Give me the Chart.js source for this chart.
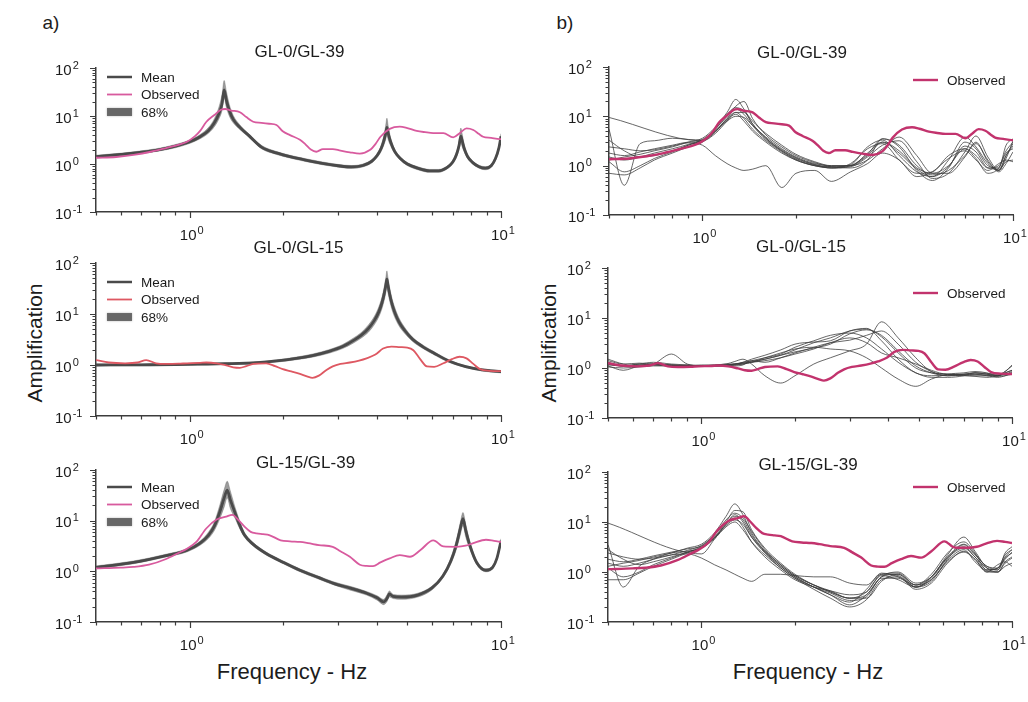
<!DOCTYPE html>
<html>
<head>
<meta charset="utf-8">
<title>Amplification</title>
<script src="https://cdn.jsdelivr.net/npm/chart.js@4/dist/chart.umd.min.js"></script>
<style>
  html, body { margin: 0; padding: 0; background: #fff; }
  #fig { position: relative; width: 1028px; height: 702px; overflow: hidden;
         font-family: "Liberation Sans", Arial, Helvetica, sans-serif; color: #1c1c1c; }
  #fig canvas { position: absolute; }
  .lbl { position: absolute; white-space: nowrap; transform: translate(-50%, -50%); }
  .rot { transform: translate(-50%, -50%) rotate(-90deg); }
</style>
</head>
<body>
<div id="fig">
  <div class="lbl" style="left:51px;top:23px;font-size:19px">a)</div>
  <div class="lbl" style="left:565px;top:23px;font-size:19px">b)</div>
  <div class="lbl rot" style="left:35px;top:343px;font-size:21px">Amplification</div>
  <div class="lbl rot" style="left:549px;top:343px;font-size:21px">Amplification</div>
  <div class="lbl" style="left:292px;top:672px;font-size:22px">Frequency - Hz</div>
  <div class="lbl" style="left:808px;top:672px;font-size:22px">Frequency - Hz</div>
</div>
<script>
// ---- GL-0/GL-39 : mean transfer function and 68% band
const F_MEAN_1 = [0.5, 0.6, 0.7, 0.8, 0.9, 1.0, 1.08, 1.15, 1.2, 1.24, 1.27, 1.29, 1.31, 1.34, 1.38, 1.45, 1.55, 1.7, 1.9, 2.1, 2.4, 2.7, 3.0, 3.3, 3.6, 3.85, 4.0, 4.12, 4.2, 4.26, 4.3, 4.34, 4.42, 4.55, 4.75, 5.0, 5.4, 5.9, 6.3, 6.7, 7.0, 7.2, 7.33, 7.43, 7.5, 7.62, 7.8, 8.1, 8.5, 8.9, 9.3, 9.6, 9.85, 10]
const MEAN_1 = [1.42, 1.58, 1.76, 2.0, 2.35, 2.9, 3.7, 5.0, 7.2, 11, 18, 35, 22, 13, 8.5, 5.8, 3.9, 2.25, 1.7, 1.42, 1.18, 1.02, 0.92, 0.87, 0.93, 1.15, 1.5, 2.1, 3.0, 4.3, 5.8, 4.4, 2.9, 1.85, 1.3, 1.0, 0.82, 0.72, 0.72, 0.84, 1.1, 1.6, 2.4, 3.8, 3.1, 2.1, 1.45, 1.08, 0.88, 0.82, 0.92, 1.3, 2.2, 3.8]
const HI_1 = [1.52, 1.68, 1.88, 2.14, 2.55, 3.15, 4.1, 5.8, 8.8, 15, 28, 55, 34, 17.5, 10.3, 6.5, 4.25, 2.45, 1.82, 1.52, 1.26, 1.09, 0.98, 0.93, 1.0, 1.25, 1.66, 2.45, 3.8, 6.2, 9.0, 6.3, 3.5, 2.06, 1.4, 1.07, 0.88, 0.77, 0.77, 0.9, 1.2, 1.85, 3.0, 5.6, 4.3, 2.5, 1.6, 1.16, 0.94, 0.88, 0.99, 1.42, 2.45, 4.3]
const LO_1 = [1.33, 1.48, 1.65, 1.87, 2.18, 2.68, 3.35, 4.4, 6.0, 8.6, 13, 24, 15.5, 10, 7.2, 5.2, 3.6, 2.08, 1.58, 1.33, 1.1, 0.95, 0.86, 0.81, 0.87, 1.06, 1.36, 1.82, 2.45, 3.2, 4.0, 3.2, 2.4, 1.66, 1.2, 0.93, 0.76, 0.67, 0.67, 0.78, 1.01, 1.4, 2.0, 2.8, 2.3, 1.78, 1.32, 1.0, 0.82, 0.76, 0.85, 1.18, 1.95, 3.3]

// ---- GL-0/GL-15
const F_MEAN_2 = [0.5, 0.7, 0.9, 1.1, 1.3, 1.6, 1.9, 2.2, 2.5, 2.8, 3.1, 3.35, 3.55, 3.75, 3.92, 4.05, 4.15, 4.22, 4.27, 4.3, 4.33, 4.38, 4.45, 4.55, 4.7, 4.9, 5.2, 5.6, 6.1, 6.8, 7.7, 8.7, 10]
const MEAN_2 = [1.0, 1.01, 1.02, 1.04, 1.06, 1.1, 1.2, 1.35, 1.55, 1.85, 2.3, 3.0, 3.8, 5.2, 7.5, 11, 17, 26, 38, 48, 38, 26, 17, 11, 7, 4.8, 3.2, 2.3, 1.7, 1.2, 0.93, 0.8, 0.74]
const HI_2 = [1.04, 1.05, 1.06, 1.08, 1.1, 1.15, 1.26, 1.43, 1.66, 2.0, 2.52, 3.35, 4.3, 6.1, 9.0, 13.8, 22, 35, 54, 70, 54, 35, 22, 13.8, 8.4, 5.5, 3.5, 2.48, 1.82, 1.27, 0.97, 0.84, 0.78]
const LO_2 = [0.96, 0.97, 0.98, 1.0, 1.02, 1.05, 1.14, 1.27, 1.44, 1.7, 2.1, 2.68, 3.35, 4.4, 6.2, 8.8, 13, 19, 27, 34, 27, 19, 13, 8.8, 5.9, 4.2, 2.9, 2.12, 1.58, 1.13, 0.89, 0.76, 0.7]

// ---- GL-15/GL-39
const F_MEAN_3 = [0.5, 0.66, 0.84, 0.98, 1.08, 1.15, 1.2, 1.25, 1.29, 1.32, 1.35, 1.4, 1.45, 1.5, 1.6, 1.76, 2.0, 2.26, 2.6, 2.9, 3.3, 3.7, 4.0, 4.2, 4.3, 4.38, 4.5, 4.8, 5.4, 6.0, 6.5, 6.9, 7.2, 7.4, 7.55, 7.7, 7.95, 8.35, 8.95, 9.4, 9.7, 10]
const MEAN_3 = [1.2, 1.5, 2.05, 2.6, 3.6, 5.2, 7.8, 15, 28, 40, 26, 14, 8, 5.2, 3.4, 2.25, 1.5, 1.05, 0.75, 0.58, 0.46, 0.37, 0.3, 0.25, 0.29, 0.36, 0.32, 0.31, 0.34, 0.47, 0.8, 1.6, 3.5, 7, 11, 6.5, 3.2, 1.5, 1.05, 1.2, 1.8, 4.0]
const HI_3 = [1.28, 1.6, 2.18, 2.8, 3.95, 6.0, 9.4, 20.5, 41, 60, 39, 18, 9.5, 5.8, 3.7, 2.4, 1.6, 1.12, 0.8, 0.62, 0.5, 0.4, 0.33, 0.28, 0.34, 0.41, 0.35, 0.34, 0.37, 0.51, 0.87, 1.85, 4.3, 9.2, 14.5, 8.6, 3.8, 1.65, 1.12, 1.28, 1.95, 4.4]
const LO_3 = [1.12, 1.41, 1.93, 2.42, 3.28, 4.5, 6.4, 11, 18.5, 28, 17.5, 11, 6.8, 4.7, 3.15, 2.1, 1.41, 0.98, 0.7, 0.54, 0.42, 0.34, 0.27, 0.22, 0.25, 0.31, 0.29, 0.28, 0.31, 0.43, 0.73, 1.4, 2.8, 5.2, 8.0, 4.8, 2.7, 1.38, 0.98, 1.12, 1.68, 3.6]

// ---- observed spectral ratios
const F_OBS_1 = [0.5, 0.58, 0.66, 0.75, 0.84, 0.92, 0.98, 1.04, 1.08, 1.13, 1.2, 1.26, 1.3, 1.36, 1.45, 1.52, 1.6, 1.7, 1.8, 1.9, 1.99, 2.1, 2.26, 2.35, 2.45, 2.55, 2.68, 2.88, 3.05, 3.27, 3.52, 3.79, 3.95, 4.1, 4.39, 4.73, 5.0, 5.36, 5.7, 6.06, 6.53, 7.02, 7.4, 7.75, 8.15, 8.5, 8.76, 9.3, 9.9, 10]
const OBS_1 = [1.35, 1.4, 1.55, 1.8, 2.15, 2.5, 2.9, 3.8, 4.9, 7.5, 10.5, 13.5, 14, 13, 12, 9.5, 7.6, 7.2, 6.9, 6.5, 4.8, 4.0, 3.2, 2.6, 2.0, 1.8, 2.05, 2.05, 1.9, 1.75, 1.65, 1.95, 2.6, 3.7, 5.4, 6.0, 5.6, 4.9, 4.6, 4.4, 4.4, 3.6, 4.5, 5.5, 5.1, 4.2, 3.7, 3.5, 3.3, 3.3]
const F_OBS_2 = [0.5, 0.55, 0.62, 0.68, 0.725, 0.78, 0.84, 0.92, 0.98, 1.08, 1.13, 1.22, 1.31, 1.38, 1.45, 1.52, 1.6, 1.76, 1.88, 1.99, 2.12, 2.26, 2.38, 2.48, 2.6, 2.75, 2.88, 3.05, 3.27, 3.5, 3.7, 3.95, 4.18, 4.45, 4.73, 5.0, 5.23, 5.5, 5.78, 6.1, 6.53, 6.95, 7.36, 7.75, 8.15, 8.56, 9.2, 9.9, 10]
const OBS_2 = [1.25, 1.12, 1.08, 1.12, 1.25, 1.08, 1.05, 1.06, 1.08, 1.1, 1.12, 1.08, 0.98, 0.9, 0.88, 0.95, 1.05, 1.08, 0.95, 0.83, 0.75, 0.67, 0.6, 0.56, 0.62, 0.8, 0.94, 1.05, 1.12, 1.22, 1.35, 1.6, 2.1, 2.3, 2.25, 2.2, 1.95, 1.3, 0.94, 0.92, 1.08, 1.3, 1.45, 1.35, 1.05, 0.83, 0.77, 0.76, 0.76]
const F_OBS_3 = [0.5, 0.6, 0.66, 0.74, 0.84, 0.92, 0.98, 1.05, 1.13, 1.22, 1.31, 1.37, 1.44, 1.5, 1.57, 1.64, 1.72, 1.8, 1.96, 2.1, 2.26, 2.4, 2.6, 2.88, 3.05, 3.27, 3.52, 3.7, 3.88, 4.1, 4.39, 4.73, 5.1, 5.5, 6.06, 6.53, 7.2, 7.7, 8.15, 8.95, 9.5, 10]
const OBS_3 = [1.14, 1.18, 1.22, 1.35, 1.75, 2.3, 2.8, 3.8, 7.0, 10.5, 12, 13, 10, 7.6, 6.0, 5.6, 5.4, 5.2, 4.1, 3.9, 3.8, 3.6, 3.3, 3.05, 2.5, 1.94, 1.35, 1.28, 1.27, 1.5, 1.8, 2.09, 1.94, 2.6, 4.1, 3.1, 3.05, 3.2, 3.6, 4.2, 4.0, 3.8]

// ---- individual simulated profiles (right column), one row per profile
const F_SIM = [0.5, 0.56, 0.63, 0.7, 0.8, 0.9, 1.0, 1.1, 1.2, 1.28, 1.36, 1.45, 1.6, 1.8, 2.0, 2.3, 2.6, 3.0, 3.4, 3.8, 4.3, 4.9, 5.5, 6.2, 7.0, 7.6, 8.3, 9.0, 9.5, 10]
const SIMS_1 = [
  [9.5, null, null, null, null, null, 3.2, 4.5, 8, 12, 9, 5.5, 3.2, 1.9, 1.3, 1.0, 0.95, 1.0, 1.6, 3.0, 2.0, 0.9, 0.7, 1.0, 2.2, 1.6, 0.9, 1.0, 2.0, 3.0],
  [5.5, 0.4, 2.8, 3.2, 3.6, 3.4, 3.3, 5, 9, 14, 11, 6.5, 3.4, 2.0, 1.4, 1.05, 0.95, 1.05, 2.4, 3.3, 1.6, 0.75, 0.6, 1.3, 3.8, 2.4, 1.1, 0.8, 1.6, 2.5],
  [2.4, 2.2, 2.0, 2.1, 2.5, 2.9, 2.6, 1.6, 1.1, 0.9, 0.8, 0.85, 1.0, 0.36, 0.7, 0.8, 0.48, 0.75, 1.1, 1.8, 1.3, 0.6, 0.75, 1.4, 2.0, 1.3, 0.8, 1.1, 1.3, 1.2],
  [1.3, 1.5, 1.7, 2.0, 2.4, 3.0, 3.6, 6, 12, 22, 14, 7, 3.6, 2.1, 1.45, 1.05, 0.9, 0.95, 1.5, 2.6, 3.2, 1.2, 0.55, 0.7, 1.9, 4.0, 1.5, 0.8, 1.4, 3.2],
  [1.8, 1.6, 1.9, 2.2, 2.6, 3.0, 3.2, 5.5, 10, 16, 20, 9, 4.2, 2.4, 1.6, 1.15, 0.95, 0.9, 1.3, 3.5, 2.4, 0.8, 0.5, 0.9, 3.0, 2.2, 1.0, 0.9, 2.6, 3.5],
  [0.7, 0.65, 0.9, 1.3, 1.8, 2.4, 3.0, 4.8, 8.5, 11, 8, 5, 3.0, 1.8, 1.3, 1.0, 0.9, 1.1, 2.2, 2.8, 1.3, 0.7, 0.75, 1.6, 2.2, 1.4, 0.7, 0.9, 1.8, 2.2],
  [1.2, 0.75, 1.0, 1.4, 1.9, 2.6, 3.3, 5, 8, 10, 9.5, 6.5, 3.8, 2.2, 1.5, 1.1, 1.0, 1.0, 1.8, 3.0, 1.8, 0.85, 0.6, 0.95, 2.5, 1.9, 0.9, 0.85, 1.2, 1.3],
  [3.3, 2.0, 1.5, 1.6, 2.0, 2.6, 3.2, 5, 9, 12, 12, 7, 3.6, 2.0, 1.35, 1.0, 0.9, 1.0, 1.7, 3.5, 2.6, 1.0, 0.65, 0.8, 1.6, 2.8, 1.3, 0.75, 1.1, 1.9],
  [1.5, 1.3, 1.5, 1.8, 2.2, 2.7, 3.4, 5.5, 11, 15, 13, 8, 4.5, 2.6, 1.7, 1.2, 1.0, 1.0, 1.3, 2.2, 3.8, 1.6, 0.7, 0.7, 1.5, 3.0, 1.2, 0.8, 1.6, 2.8],
]
const SIMS_2 = [
  [1.3, 1.1, 1.15, 1.2, 1.15, 1.1, 1.1, 1.12, 1.15, 1.15, 1.2, 1.3, 1.5, 1.8, 2.3, 3.2, 4.0, 5.5, 6.0, 4.2, 2.0, 1.0, 0.8, 0.75, 0.72, 0.7, 0.7, 0.7, 0.75, 0.8],
  [1.1, 0.9, 1.1, 1.2, 1.9, 1.2, 1.1, 1.1, 1.1, 1.1, 1.15, 1.4, 1.3, 1.6, 2.0, 2.6, 3.2, 3.6, 4.5, 5.5, 3.0, 1.3, 0.85, 0.7, 0.75, 0.8, 0.75, 0.7, 0.8, 0.9],
  [1.2, 1.1, 1.2, 1.15, 1.1, 1.1, 1.1, 1.15, 1.2, 1.35, 1.5, 1.2, 0.7, 0.5, 0.7, 1.2, 1.6, 2.2, 3.0, 8.4, 4.0, 1.6, 0.85, 0.75, 0.7, 0.68, 0.65, 0.7, 0.8, 0.9],
  [1.4, 1.2, 1.25, 1.2, 1.1, 1.1, 1.15, 1.15, 1.2, 1.2, 1.3, 1.5, 1.8, 2.3, 3.0, 3.3, 3.5, 5.5, 6.2, 3.5, 1.5, 0.8, 0.7, 0.72, 0.75, 0.75, 0.72, 0.68, 0.7, 0.75],
  [1.05, 1.0, 1.05, 1.1, 1.1, 1.15, 1.1, 1.1, 1.1, 1.15, 1.2, 1.3, 1.6, 2.0, 2.4, 2.6, 2.4, 2.2, 1.6, 1.0, 0.6, 0.43, 0.6, 0.75, 0.8, 0.85, 0.8, 0.7, 0.85, 1.1],
  [1.15, 1.1, 1.2, 1.3, 1.2, 1.15, 1.12, 1.1, 1.12, 1.2, 1.3, 1.4, 1.6, 1.9, 2.6, 3.5, 4.5, 5.0, 4.0, 2.4, 1.3, 0.8, 0.65, 0.65, 0.7, 0.8, 0.75, 0.72, 0.75, 0.85],
  [1.5, 1.2, 1.1, 1.15, 1.15, 1.12, 1.1, 1.1, 1.15, 1.2, 1.25, 1.35, 1.5, 1.8, 2.1, 2.5, 3.0, 4.8, 5.8, 4.5, 2.2, 1.1, 0.8, 0.7, 0.72, 0.75, 0.7, 0.65, 0.7, 0.8],
  [1.2, 1.1, 1.1, 1.2, 1.15, 1.1, 1.1, 1.12, 1.15, 1.2, 1.25, 1.3, 1.4, 1.6, 1.9, 2.4, 3.2, 4.0, 3.2, 2.0, 1.6, 1.2, 0.9, 0.75, 0.75, 0.8, 0.78, 0.75, 0.85, 1.15],
]
const SIMS_3 = [
  [9.5, null, null, null, null, null, 2.3, 4.5, 9, 12, 8, 4, 2.0, 1.1, 0.7, 0.5, 0.42, 0.35, 0.4, 0.85, 0.7, 0.5, 0.8, 2.0, 3.2, 2.0, 1.1, 1.2, 1.8, 2.5],
  [3.5, 0.5, 1.3, 1.8, 2.4, 2.6, 3.0, 4.8, 9, 14, 10, 5, 2.4, 1.2, 0.75, 0.5, 0.35, 0.25, 0.45, 0.95, 0.8, 0.55, 0.9, 2.4, 4.0, 2.4, 1.1, 1.2, 2.2, 2.8],
  [2.4, 2.0, 1.8, 1.9, 2.2, 2.3, 1.9, 1.4, 1.1, 0.9, 0.75, 0.65, 0.9, 0.9, 0.85, 0.8, 0.8, 0.6, 0.55, 0.9, 0.85, 0.5, 0.7, 1.6, 2.5, 1.8, 1.0, 1.4, 1.6, 1.3],
  [1.3, 1.5, 1.7, 2.0, 2.4, 3.0, 3.6, 6, 13, 23, 14, 6, 2.6, 1.3, 0.8, 0.5, 0.35, 0.22, 0.35, 0.8, 1.0, 0.6, 0.8, 2.2, 5.0, 2.6, 1.2, 1.0, 1.6, 2.0],
  [1.8, 1.6, 1.8, 2.1, 2.5, 2.9, 3.3, 5.5, 10, 17, 16, 7, 3.0, 1.5, 0.9, 0.55, 0.4, 0.3, 0.3, 0.65, 0.9, 0.5, 0.65, 1.8, 3.5, 2.2, 1.3, 1.1, 2.4, 3.2],
  [0.7, 0.7, 0.95, 1.3, 1.8, 2.4, 3.0, 4.6, 8, 10, 7, 4, 2.2, 1.2, 0.75, 0.45, 0.3, 0.2, 0.28, 0.7, 0.8, 0.45, 0.6, 1.5, 2.6, 1.8, 1.0, 1.0, 1.3, 1.5],
  [1.2, 0.8, 1.0, 1.4, 1.9, 2.5, 3.1, 4.8, 8.5, 11, 9, 5, 2.6, 1.4, 0.85, 0.55, 0.4, 0.3, 0.35, 0.75, 0.75, 0.5, 0.75, 1.9, 3.0, 2.0, 1.2, 1.1, 1.9, 2.4],
  [2.8, 1.8, 1.4, 1.6, 2.0, 2.5, 3.2, 5, 9.5, 13, 11, 5.5, 2.5, 1.3, 0.8, 0.5, 0.38, 0.27, 0.32, 0.8, 0.9, 0.55, 0.7, 1.7, 2.8, 1.6, 1.05, 1.0, 1.5, 1.9],
  [1.5, 1.3, 1.5, 1.8, 2.2, 2.7, 3.4, 5.5, 11, 15, 12, 6.5, 2.8, 1.4, 0.85, 0.55, 0.42, 0.3, 0.4, 0.9, 0.95, 0.55, 0.8, 2.0, 3.6, 2.3, 1.3, 1.2, 2.0, 2.8],
]

const TITLES = ['GL-0/GL-39', 'GL-0/GL-15', 'GL-15/GL-39']

const AXIS_COLOR = '#3c3c3c'
const MEAN_COLOR = '#4a4a4a'
const BAND_COLOR = 'rgba(90,90,90,0.6)'
const SIM_COLOR = 'rgba(60,60,60,0.78)'
const OBS_PINK = '#d85a9e'
const OBS_RED = '#de5862'
const OBS_DARK = '#c2336d'
const FONT = '"Liberation Sans", Arial, Helvetica, sans-serif'
const PAD = { left: 70, right: 24, top: 44, bottom: 46 }

const pts = (xs, ys) => xs.map((x, i) => ({ x, y: ys[i] }))

function logTicks(min, max) {
  const out = []
  for (let e = Math.floor(Math.log10(min)); e <= Math.ceil(Math.log10(max)); e++) {
    for (let m = 1; m <= 9; m++) {
      const v = m * Math.pow(10, e)
      if (v >= min * 0.999 && v <= max * 1.001) out.push(v)
    }
  }
  return out
}

function power(v) {
  const e = Math.log10(v)
  return Math.abs(e - Math.round(e)) < 1e-6 ? Math.round(e) : null
}

// "10" with a raised exponent
function powerLabel(ctx, exp, x, y, center) {
  const s = exp < 0 ? '-' + Math.abs(exp) : String(exp)
  ctx.font = '15px ' + FONT
  const w1 = ctx.measureText('10').width
  ctx.font = '11px ' + FONT
  const w2 = ctx.measureText(s).width
  const left = center ? x - (w1 + w2 + 1) / 2 : x
  ctx.textAlign = 'left'
  ctx.textBaseline = 'alphabetic'
  ctx.font = '15px ' + FONT
  ctx.fillText('10', left, y + 5.5)
  ctx.font = '11px ' + FONT
  ctx.fillText(s, left + w1 + 1, y - 0.5)
}

// tick marks, power-of-ten labels, panel title and in-plot legend
const decorPlugin = {
  id: 'decor',
  afterDraw(chart, args, o) {
    const { ctx, chartArea: a } = chart
    const xs = chart.scales.x
    const ys = chart.scales.y
    ctx.save()
    ctx.strokeStyle = AXIS_COLOR
    ctx.fillStyle = '#1c1c1c'
    ctx.lineWidth = 1.2
    ctx.beginPath()
    logTicks(xs.min, xs.max).forEach(v => {
      const p = Math.round(xs.getPixelForValue(v)) + 0.5
      ctx.moveTo(p, a.bottom)
      ctx.lineTo(p, a.bottom + (power(v) !== null ? 6 : 3.5))
    })
    logTicks(ys.min, ys.max).forEach(v => {
      const p = Math.round(ys.getPixelForValue(v)) + 0.5
      ctx.moveTo(a.left, p)
      ctx.lineTo(a.left - (power(v) !== null ? 6 : 3.5), p)
    })
    ctx.stroke()
    logTicks(xs.min, xs.max).forEach(v => {
      const e = power(v)
      if (e !== null) powerLabel(ctx, e, xs.getPixelForValue(v) + 2, a.bottom + 22, true)
    })
    logTicks(ys.min, ys.max).forEach(v => {
      const e = power(v)
      if (e !== null) powerLabel(ctx, e, a.left - 41, ys.getPixelForValue(v) + 1, false)
    })

    ctx.font = '17px ' + FONT
    ctx.textAlign = 'center'
    ctx.textBaseline = 'middle'
    ctx.fillText(o.title, (a.left + a.right) / 2 + o.titleDx, a.top + o.titleDy)

    const lg = o.legend
    ctx.font = '13.5px ' + FONT
    ctx.textAlign = 'left'
    lg.items.forEach((it, i) => {
      const y = a.top + lg.y + i * 17.5
      const x = a.left + lg.x
      if (it.band) {
        ctx.fillStyle = 'rgba(90,90,90,0.85)'
        ctx.shadowColor = 'rgba(90,90,90,0.6)'
        ctx.shadowBlur = 2
        ctx.fillRect(x, y - 4, 25, 8)
        ctx.shadowBlur = 0
      } else {
        ctx.strokeStyle = it.color
        ctx.lineWidth = it.width
        ctx.beginPath()
        ctx.moveTo(x, y)
        ctx.lineTo(x + 25, y)
        ctx.stroke()
      }
      ctx.fillStyle = '#1c1c1c'
      ctx.fillText(it.label, x + 34, y + 1)
    })
    ctx.restore()
  },
}

function axis(min, max, fit) {
  return {
    type: 'logarithmic',
    min, max,
    afterFit: fit,
    ticks: { display: false },
    grid: { display: false },
    border: { display: true, color: AXIS_COLOR, width: 1.5 },
  }
}

function panel(box, datasets, decor) {
  const w = box.r - box.l + PAD.left + PAD.right
  const h = box.b - box.t + PAD.top + PAD.bottom
  const cv = document.createElement('canvas')
  cv.width = w
  cv.height = h
  cv.style.left = (box.l - PAD.left) + 'px'
  cv.style.top = (box.t - PAD.top) + 'px'
  cv.style.width = w + 'px'
  cv.style.height = h + 'px'
  document.getElementById('fig').appendChild(cv)
  return new Chart(cv, {
    type: 'line',
    data: { datasets },
    options: {
      responsive: false,
      animation: false,
      layout: { padding: PAD },
      elements: { point: { radius: 0 }, line: { cubicInterpolationMode: 'monotone' } },
      plugins: { legend: { display: false }, tooltip: { enabled: false }, decor },
      scales: {
        x: axis(0.5, 10, s => { s.height = 0 }),
        y: axis(0.1, 100, s => { s.width = 0 }),
      },
    },
    plugins: [decorPlugin],
  })
}

// left column: mean, observed and 68% band
function meanSets(f, mean, lo, hi, fo, obs, obsColor) {
  return [
    { data: pts(fo, obs), borderColor: obsColor, borderWidth: 1.8, fill: false },
    { data: pts(f, mean), borderColor: MEAN_COLOR, borderWidth: 2.8, fill: false },
    { data: pts(f, hi), borderWidth: 1, borderColor: 'rgba(90,90,90,0.35)', fill: false },
    { data: pts(f, lo), borderWidth: 1, borderColor: 'rgba(90,90,90,0.35)', fill: '-1', backgroundColor: BAND_COLOR },
  ]
}

// right column: observed over the individual profiles
function simSets(sims, fo, obs) {
  const sets = [{ data: pts(fo, obs), borderColor: OBS_DARK, borderWidth: 2.4, fill: false }]
  sims.forEach(s => sets.push({ data: pts(F_SIM, s), borderColor: SIM_COLOR, borderWidth: 1, fill: false, spanGaps: true }))
  return sets
}

const meanLegend = c => [
  { label: 'Mean', color: MEAN_COLOR, width: 2.5 },
  { label: 'Observed', color: c, width: 1.8 },
  { label: '68%', band: true },
]
const obsLegend = [{ label: 'Observed', color: OBS_DARK, width: 2.4 }]

panel({ l: 96, r: 501, t: 68, b: 212 },
  meanSets(F_MEAN_1, MEAN_1, LO_1, HI_1, F_OBS_1, OBS_1, OBS_PINK),
  { title: TITLES[0], titleDx: 1, titleDy: -16, legend: { x: 11, y: 9, items: meanLegend(OBS_PINK) } })
panel({ l: 96, r: 501, t: 263, b: 416 },
  meanSets(F_MEAN_2, MEAN_2, LO_2, HI_2, F_OBS_2, OBS_2, OBS_RED),
  { title: TITLES[1], titleDx: 0, titleDy: -15, legend: { x: 11, y: 19, items: meanLegend(OBS_RED) } })
panel({ l: 96, r: 501, t: 470, b: 622 },
  meanSets(F_MEAN_3, MEAN_3, LO_3, HI_3, F_OBS_3, OBS_3, OBS_PINK),
  { title: TITLES[2], titleDx: 7, titleDy: -7, legend: { x: 11, y: 17, items: meanLegend(OBS_PINK) } })

panel({ l: 609, r: 1013, t: 67, b: 215 },
  simSets(SIMS_1, F_OBS_1, OBS_1),
  { title: TITLES[0], titleDx: -9, titleDy: -14, legend: { x: 304, y: 13, items: obsLegend } })
panel({ l: 608, r: 1012, t: 268, b: 418 },
  simSets(SIMS_2, F_OBS_2, OBS_2),
  { title: TITLES[1], titleDx: -9, titleDy: -21, legend: { x: 305, y: 25, items: obsLegend } })
panel({ l: 608, r: 1012, t: 472, b: 622 },
  simSets(SIMS_3, F_OBS_3, OBS_3),
  { title: TITLES[2], titleDx: -2, titleDy: -7, legend: { x: 305, y: 15, items: obsLegend } })
</script>
</body>
</html>
